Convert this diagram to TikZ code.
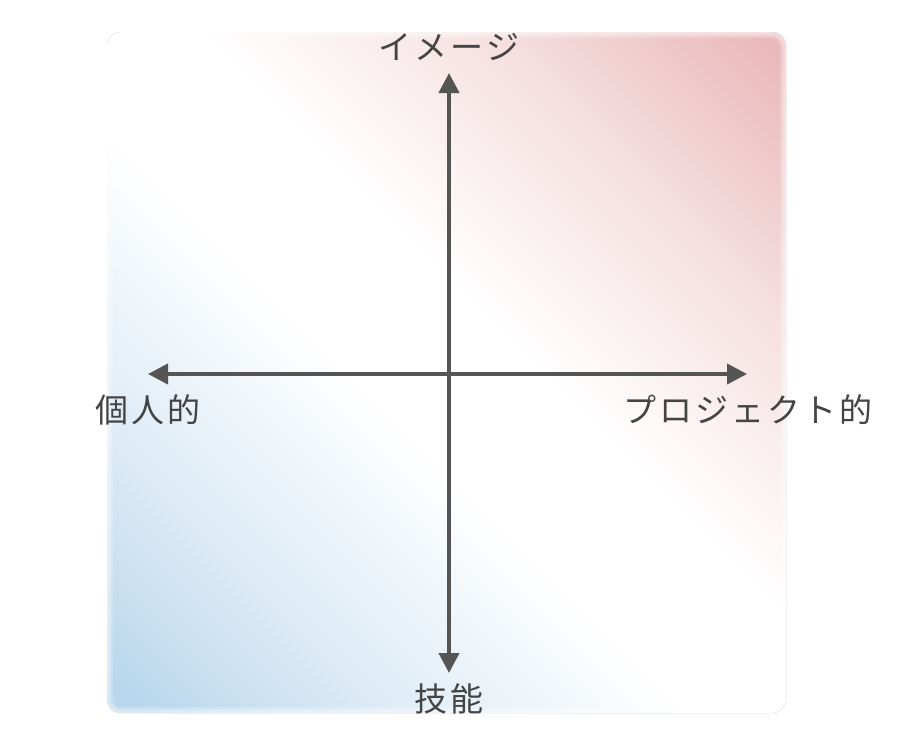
\documentclass[tikz,border=0pt]{standalone}
\usepackage{fontspec}
\setmainfont[LetterSpace=9]{Noto Sans CJK JP}
\usepackage{xcolor}
\usetikzlibrary{arrows.meta,positioning}
\definecolor{qblue}{HTML}{B8D6EC}
\definecolor{qred}{HTML}{EAB9BA}
\definecolor{qaxis}{HTML}{555555}
\definecolor{qtext}{HTML}{444444}
\pgfdeclarehorizontalshading{quadbg}{100bp}{color(0bp)=(qblue); color(16bp)=(qblue); color(30bp)=(qblue!45); color(45bp)=(white); color(55bp)=(white); color(70bp)=(qred!45); color(84bp)=(qred); color(100bp)=(qred)}
\tikzset{
  axis/.style={draw=qaxis,line width=4pt,{Triangle[length=20pt,width=20pt]}-{Triangle[length=20pt,width=20pt]}},
  lbl/.style={font=\fontsize{33}{38}\selectfont,text=qtext,inner sep=0pt},
  soft/.style={draw=white,rounded corners=14pt,opacity=0.18},
}

\begin{document}
\begin{tikzpicture}[x=1pt,y=-1pt]
  \useasboundingbox (0,0) rectangle (900,750);
  % background
  \fill[shading=quadbg,shading angle=45,rounded corners=14pt] (107,32) rectangle (786,713);
  \foreach \w in {3,6,9,12}
    \draw[soft,line width=\w pt] (107,32) rectangle (786,713);
  \coordinate (o) at (449,374);
  \coordinate (top) at (449,73);
  \coordinate (bot) at (449,673);
  \coordinate (lft) at (148,374);
  \coordinate (rgt) at (747,374);
  \draw[axis] (bot) -- (top);
  \draw[axis] (lft) -- (rgt);
  \node[lbl] (image) at (449,47) {イメージ};
  \node[lbl] (skill) at (449,699) {技能};
  \node[lbl] (indiv) at (148,410) {個人的};
  \node[lbl] (proj) at (748,410) {プロジェクト的};
\end{tikzpicture}
\end{document}
